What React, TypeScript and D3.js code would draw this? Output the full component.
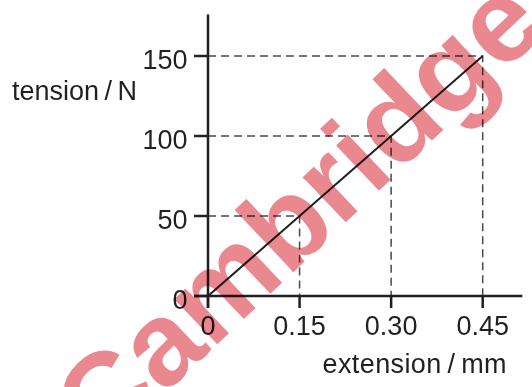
import React, { useEffect, useRef } from "react";
import * as d3 from "d3";

// extension (mm) and tension (N)
const extensions = [0, 0.15, 0.3, 0.45];
const tensions = [0, 50, 100, 150];
const xTicks = ["0", "0.15", "0.30", "0.45"];
const yTicks = ["0", "50", "100", "150"];
const xAxisEnd = 0.515;
const yAxisEnd = 176;

export default function App() {
  const ref = useRef<SVGSVGElement>(null);

  useEffect(() => {
    const svg = d3.select(ref.current);
    svg.selectAll("*").remove();

    const ink = "#231f20";
    const font = "'Liberation Sans', Arial, sans-serif";

    var x = d3.scaleLinear().domain([0, 0.45]).range([208, 482.7]);
    var y = d3.scaleLinear().domain([0, 150]).range([296, 56]);

    var g = svg.append("g");

    // dashed guide lines from each point to the axes
    extensions.forEach((e, i) => {
      if (i === 0) return;
      g.append("path")
        .attr("d", `M${x(0)},${y(tensions[i])}H${x(e)}V${y(0)}`)
        .attr("fill", "none")
        .attr("stroke", "#4a4a4a")
        .attr("stroke-width", 1.5)
        .attr("stroke-dasharray", "8,5");
    });

    // axes
    g.append("line")
      .attr("x1", x(0)).attr("x2", x(0))
      .attr("y1", y(yAxisEnd)).attr("y2", y(0) + 12)
      .attr("stroke", ink).attr("stroke-width", 2.5);
    g.append("line")
      .attr("x1", x(0) - 14).attr("x2", x(xAxisEnd))
      .attr("y1", y(0)).attr("y2", y(0))
      .attr("stroke", ink).attr("stroke-width", 2.5);

    // y ticks
    tensions.forEach((t, i) => {
      g.append("line")
        .attr("x1", x(0) - 14).attr("x2", x(0))
        .attr("y1", y(t)).attr("y2", y(t))
        .attr("stroke", ink).attr("stroke-width", 2.5);
      g.append("text")
        .attr("x", x(0) - 20.5)
        .attr("y", y(t) + 13)
        .attr("text-anchor", "end")
        .attr("font-family", font)
        .attr("font-size", 27)
        .attr("fill", ink)
        .text(yTicks[i]);
    });

    // x ticks
    extensions.forEach((e, i) => {
      g.append("line")
        .attr("x1", x(e)).attr("x2", x(e))
        .attr("y1", y(0)).attr("y2", y(0) + 12)
        .attr("stroke", ink).attr("stroke-width", 2.5);
      g.append("text")
        .attr("x", x(e))
        .attr("y", 335)
        .attr("text-anchor", "middle")
        .attr("font-family", font)
        .attr("font-size", 27)
        .attr("fill", ink)
        .text(xTicks[i]);
    });

    // the graph line
    var line = d3
      .line<number>()
      .x((d) => x(d))
      .y((d, i) => y(tensions[i]));
    g.append("path")
      .datum(extensions)
      .attr("d", line)
      .attr("fill", "none")
      .attr("stroke", ink)
      .attr("stroke-width", 2);

    // axis labels
    g.append("text")
      .attr("x", 12)
      .attr("y", 100)
      .attr("font-family", font)
      .attr("font-size", 27)
      .attr("fill", ink)
      .text("tension\u2009/\u2009N");

    g.append("text")
      .attr("x", 507)
      .attr("y", 373)
      .attr("text-anchor", "end")
      .attr("font-family", font)
      .attr("font-size", 27)
      .attr("letter-spacing", 0.4)
      .attr("fill", ink)
      .text("extension\u2009/\u2009mm");

    // watermark
    svg.append("text")
      .attr("transform", "translate(304,219) rotate(-43.5)")
      .attr("text-anchor", "middle")
      .attr("dominant-baseline", "middle")
      .attr("font-family", font)
      .attr("font-weight", "bold")
      .attr("font-size", 118)
      .attr("fill", "#e87880")
      .attr("opacity", 0.88)
      .style("mix-blend-mode", "multiply")
      .text("Cambridge");
  }, []);

  return (
    <svg
      ref={ref}
      width={532}
      height={387}
      style={{ position: "absolute", left: 0, top: 0, background: "#fff" }}
    ></svg>
  );
}
